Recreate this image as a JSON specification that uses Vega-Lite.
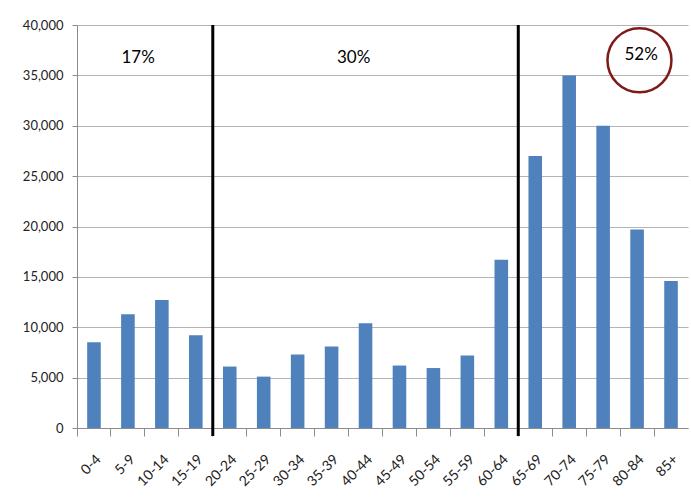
{
  "$schema": "https://vega.github.io/schema/vega-lite/v6.json",
  "width": 611,
  "height": 403,
  "autosize": {"type": "none"},
  "padding": {"left": 77, "top": 25, "right": 3, "bottom": 70},
  "background": "white",
  "config": {
    "view": {"stroke": null},
    "font": "Lato",
    "axis": {"labelFont": "Lato", "labelFontSize": 13, "labelColor": "#222222", "title": null},
    "axisY": {
      "grid": true,
      "gridColor": "#b3b3b3",
      "gridWidth": 1,
      "domainColor": "#8c8c8c",
      "tickColor": "#8c8c8c",
      "tickSize": 5,
      "labelPadding": 9
    }
  },
  "datasets": {
    "ages": [
      {"age": "0-4", "count": 8500},
      {"age": "5-9", "count": 11300},
      {"age": "10-14", "count": 12700},
      {"age": "15-19", "count": 9200},
      {"age": "20-24", "count": 6100},
      {"age": "25-29", "count": 5100},
      {"age": "30-34", "count": 7300},
      {"age": "35-39", "count": 8100},
      {"age": "40-44", "count": 10400},
      {"age": "45-49", "count": 6200},
      {"age": "50-54", "count": 5950},
      {"age": "55-59", "count": 7200},
      {"age": "60-64", "count": 16700},
      {"age": "65-69", "count": 27000},
      {"age": "70-74", "count": 35000},
      {"age": "75-79", "count": 30000},
      {"age": "80-84", "count": 19700},
      {"age": "85+", "count": 14600}
    ],
    "breaks": [
      {"age": "20-24"},
      {"age": "65-69"}
    ]
  },
  "resolve": {"axis": {"x": "independent"}},
  "layer": [
    {
      "data": {"name": "ages"},
      "mark": {"type": "bar", "width": {"band": 0.4}, "color": "#4F81BD"},
      "encoding": {
        "x": {
          "field": "age",
          "type": "nominal",
          "sort": null,
          "scale": {"paddingInner": 0, "paddingOuter": 0},
          "axis": {
            "orient": "bottom",
            "labelAngle": -45,
            "labelAlign": "right",
            "labelBaseline": "top",
            "labelPadding": 24,
            "labelFontSize": 14,
            "ticks": false,
            "domainColor": "#8c8c8c",
            "domainWidth": 1,
            "grid": false
          }
        },
        "y": {
          "field": "count",
          "type": "quantitative",
          "scale": {"domain": [0, 40000], "nice": false},
          "axis": {"values": [0, 5000, 10000, 15000, 20000, 25000, 30000, 35000, 40000], "format": ",.0f"}
        }
      }
    },
    {
      "data": {"name": "breaks"},
      "mark": {"type": "rule", "color": "black", "strokeWidth": 3},
      "encoding": {
        "x": {
          "field": "age",
          "type": "nominal",
          "sort": null,
          "bandPosition": 0,
          "axis": {
            "orient": "bottom",
            "bandPosition": 0,
            "labels": false,
            "domain": false,
            "grid": false,
            "ticks": true,
            "tickSize": 8,
            "tickColor": "#8c8c8c"
          }
        },
        "y": {"datum": 40000, "type": "quantitative", "axis": {"values": [0, 5000, 10000, 15000, 20000, 25000, 30000, 35000, 40000], "format": ",.0f"}},
        "y2": {"datum": -800}
      }
    },
    {
      "data": {"values": [{"age": "5-9", "share": "17%", "count": 36750}]},
      "mark": {"type": "text", "fontSize": 17, "color": "black", "baseline": "middle", "align": "center"},
      "encoding": {
        "x": {"field": "age", "type": "nominal", "sort": null, "bandPosition": 0.8, "axis": null},
        "y": {"field": "count", "type": "quantitative", "axis": {"values": [0, 5000, 10000, 15000, 20000, 25000, 30000, 35000, 40000], "format": ",.0f"}},
        "text": {"field": "share"}
      }
    },
    {
      "data": {"values": [{"age": "40-44", "share": "30%", "count": 36750}]},
      "mark": {"type": "text", "fontSize": 17, "color": "black", "baseline": "middle", "align": "center"},
      "encoding": {
        "x": {"field": "age", "type": "nominal", "sort": null, "bandPosition": 0.15, "axis": null},
        "y": {"field": "count", "type": "quantitative", "axis": {"values": [0, 5000, 10000, 15000, 20000, 25000, 30000, 35000, 40000], "format": ",.0f"}},
        "text": {"field": "share"}
      }
    },
    {
      "data": {"values": [{"age": "80-84", "count": 36500}]},
      "mark": {"type": "point", "shape": "circle", "size": 4096, "filled": false, "stroke": "#7f1a1a", "strokeWidth": 2.5, "opacity": 1},
      "encoding": {
        "x": {"field": "age", "type": "nominal", "sort": null, "bandPosition": 0.57, "axis": null},
        "y": {"field": "count", "type": "quantitative", "axis": {"values": [0, 5000, 10000, 15000, 20000, 25000, 30000, 35000, 40000], "format": ",.0f"}}
      }
    },
    {
      "data": {"values": [{"age": "80-84", "share": "52%", "count": 37000}]},
      "mark": {"type": "text", "fontSize": 17, "color": "black", "baseline": "middle", "align": "center"},
      "encoding": {
        "x": {"field": "age", "type": "nominal", "sort": null, "bandPosition": 0.62, "axis": null},
        "y": {"field": "count", "type": "quantitative", "axis": {"values": [0, 5000, 10000, 15000, 20000, 25000, 30000, 35000, 40000], "format": ",.0f"}},
        "text": {"field": "share"}
      }
    }
  ]
}
